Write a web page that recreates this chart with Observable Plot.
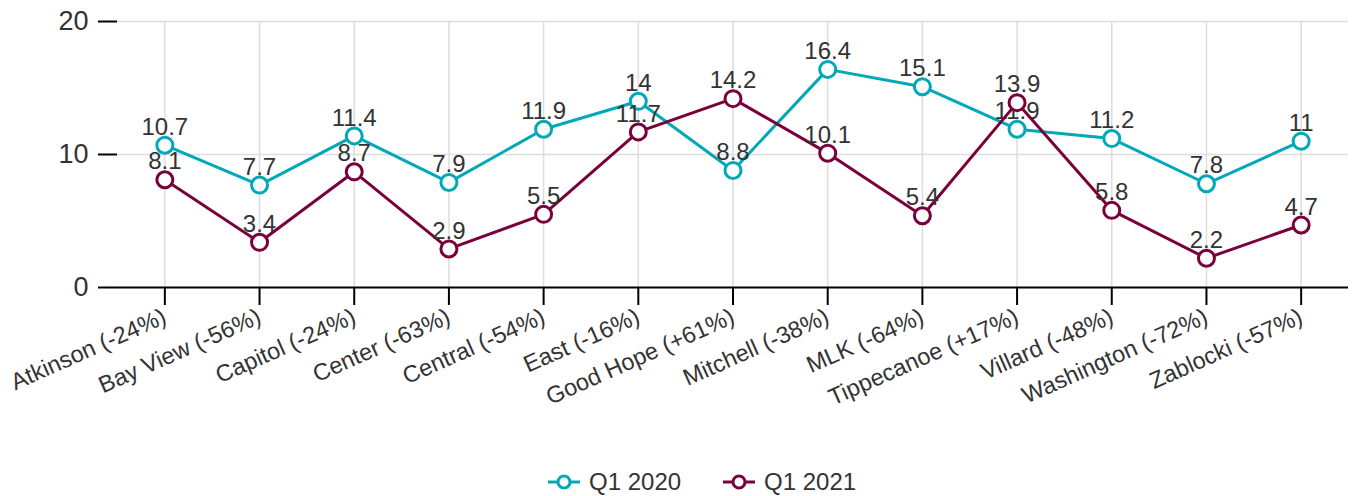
<!DOCTYPE html>
<html>
<head>
<meta charset="utf-8">
<script src="https://cdn.jsdelivr.net/npm/d3@7"></script>
<script src="https://cdn.jsdelivr.net/npm/@observablehq/plot@0.6"></script>
<style>
  html, body { margin: 0; padding: 0; background: #fff; }
  body { width: 1352px; height: 496px; position: relative; overflow: hidden; font-family: "Liberation Sans", Arial, sans-serif; }
  #legend { position: absolute; left: 547px; top: 468px; display: flex; align-items: center; font-size: 24px; color: #333; }
  .item { display: flex; align-items: center; margin-right: 41px; }
  .item svg { margin-right: 8px; }
</style>
</head>
<body>
<div id="chart"></div>
<div id="legend"></div>
<script>
const categories = ["Atkinson (-24%)", "Bay View (-56%)", "Capitol (-24%)", "Center (-63%)", "Central (-54%)", "East (-16%)", "Good Hope (+61%)", "Mitchell (-38%)", "MLK (-64%)", "Tippecanoe (+17%)", "Villard (-48%)", "Washington (-72%)", "Zablocki (-57%)"];
const seriesNames = ["Q1 2020", "Q1 2021"];
const q12020 = [10.7, 7.7, 11.4, 7.9, 11.9, 14, 8.8, 16.4, 15.1, 11.9, 11.2, 7.8, 11];
const q12021 = [8.1, 3.4, 8.7, 2.9, 5.5, 11.7, 14.2, 10.1, 5.4, 13.9, 5.8, 2.2, 4.7];
const yTicks = [0, 10, 20];
const colors = ["#00a8b8", "#7a003c"];

const rows = [q12020, q12021].map((vals, s) =>
  categories.map((c, i) => ({cat: c, value: vals[i], series: seriesNames[s]})));

const seriesMarks = rows.flatMap((data, s) => [
  Plot.line(data, {x: "cat", y: "value", stroke: colors[s], strokeWidth: 3}),
  Plot.dot(data, {x: "cat", y: "value", r: 8, fill: "white", stroke: colors[s], strokeWidth: 3}),
  Plot.text(data, {x: "cat", y: "value", text: d => String(d.value), dy: -18, fontSize: 24, fill: "#333"})
]);

const chart = Plot.plot({
  width: 1352,
  height: 462,
  marginLeft: 117,
  marginRight: 4,
  marginTop: 21,
  marginBottom: 175,
  style: {fontFamily: "'Liberation Sans', Arial, sans-serif", color: "#333", background: "#fff"},
  x: {type: "point", domain: categories, padding: 0.5, round: false},
  y: {domain: [0, 20]},
  marks: [
    Plot.gridX(categories, {stroke: "#ddd", strokeOpacity: 1, strokeWidth: 1.5}),
    Plot.gridY(yTicks.filter(t => t > 0), {stroke: "#ddd", strokeOpacity: 1, strokeWidth: 1.5}),
    Plot.axisX({ticks: categories, tickSize: 18, tickRotate: -24, tickPadding: 10, fontSize: 23.5, label: null, stroke: "#000", strokeWidth: 2, fill: "#333"}),
    Plot.axisY({ticks: yTicks, tickSize: 19, tickPadding: 10, fontSize: 27, label: null, stroke: "#000", strokeWidth: 2, fill: "#333", line: true}),
    Plot.ruleY([0], {stroke: "#000", strokeWidth: 2}),
    ...seriesMarks
  ]
});
document.getElementById("chart").appendChild(chart);

const legend = document.getElementById("legend");
seriesNames.forEach((name, s) => {
  const item = document.createElement("div");
  item.className = "item";
  item.innerHTML = `<svg width="34" height="20"><line x1="1" y1="10" x2="33" y2="10" stroke="${colors[s]}" stroke-width="3"/><circle cx="17" cy="10" r="6" fill="white" stroke="${colors[s]}" stroke-width="3"/></svg><span>${name}</span>`;
  legend.appendChild(item);
});
</script>
</body>
</html>
